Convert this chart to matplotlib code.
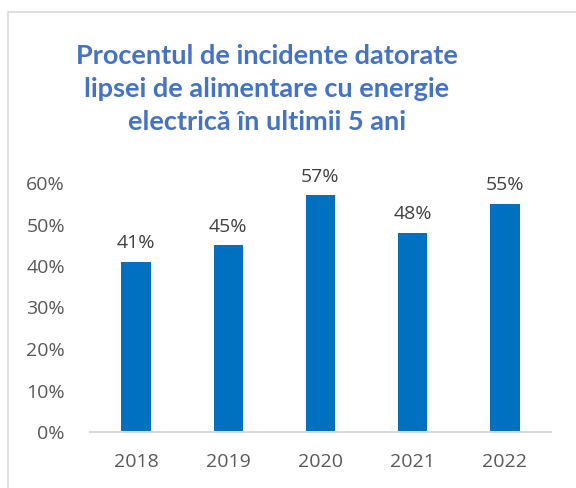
import matplotlib
matplotlib.use("Agg")
import matplotlib.pyplot as plt
from matplotlib.patches import Rectangle

years = ["2018", "2019", "2020", "2021", "2022"]
values = [41, 45, 57, 48, 55]
yticks = [0, 10, 20, 30, 40, 50, 60]
title = "Procentul de incidente datorate\nlipsei de alimentare cu energie\nelectrică în ultimii 5 ani"

W, H = 576, 488
fig = plt.figure(figsize=(W/100, H/100), dpi=100)
fig.patch.set_facecolor("white")

# outer chart border (cropped frame)
fig.add_artist(Rectangle((8/W, -0.1), 1.2, (H-12)/H + 0.1, transform=fig.transFigure,
                         fill=False, edgecolor="#D9D9D9", linewidth=1.2))

ax = fig.add_axes([90/W, (H-432)/H, (551-90)/W, (432-183)/H])
x = list(range(len(years)))
bars = ax.bar(x, values, width=0.32, color="#0070C0")
ax.set_ylim(0, 60)
ax.set_xlim(-0.5, len(years)-0.5)
ax.set_yticks(yticks)
ax.set_yticklabels([f"{v}%" for v in yticks])
ax.set_xticks(x)
ax.set_xticklabels(years)
for s in ["top", "right", "left"]:
    ax.spines[s].set_visible(False)
ax.spines["bottom"].set_color("#D9D9D9")
ax.spines["bottom"].set_linewidth(1.5)
ax.tick_params(axis="both", length=0, labelsize=14, labelcolor="#595959")
ax.tick_params(axis="y", pad=18)
ax.tick_params(axis="x", pad=15)
for lab in ax.get_xticklabels() + ax.get_yticklabels():
    lab.set_family("Open Sans")
for xi, v in zip(x, values):
    ax.annotate(f"{v}%", (xi, v), xytext=(0, 7), textcoords="offset points",
                ha="center", va="bottom", fontsize=14, color="#404040", family="Open Sans")

fig.text(267/W, (H-89)/H, title, ha="center", va="center", fontsize=19.5, fontweight="bold",
         color="#4472C4", family="Lato", linespacing=1.45)

fig.savefig("out.png", dpi=100)
